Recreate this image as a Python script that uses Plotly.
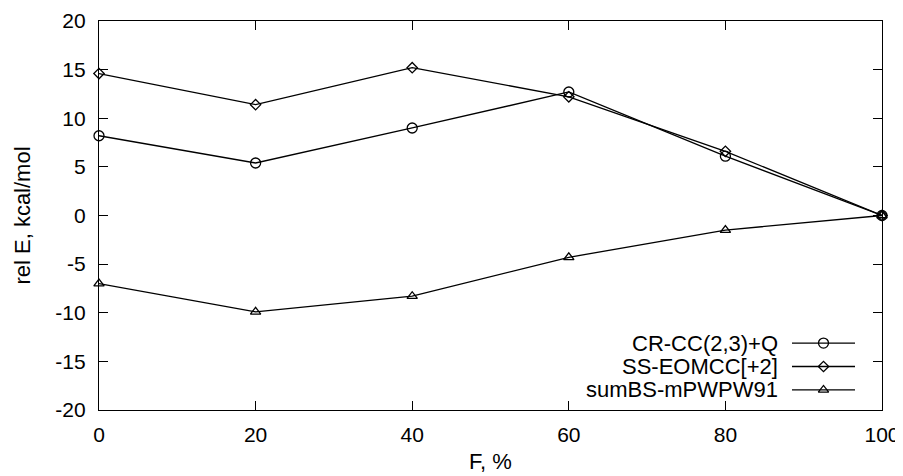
import plotly.graph_objects as go

x_vals = [0, 20, 40, 60, 80, 100]
cr_cc = [8.2, 5.4, 9.0, 12.7, 6.1, 0.0]
ss_eomcc = [14.6, 11.4, 15.2, 12.2, 6.6, 0.0]
sumbs = [-7.0, -9.9, -8.3, -4.3, -1.5, 0.0]

names = ["CR-CC(2,3)+Q", "SS-EOMCC[+2]", "sumBS-mPWPW91"]
symbols = ["circle-open", "diamond-open", "triangle-up-open"]
sizes = [10, 8, 9]
series = [cr_cc, ss_eomcc, sumbs]

x_ticks = [0, 20, 40, 60, 80, 100]
x_ticktext = ["0", "20", "40", "60", "80", "100"]
y_ticks = [-20, -15, -10, -5, 0, 5, 10, 15, 20]
y_ticktext = ["-20", "-15", "-10", "-5", "0", "5", "10", "15", "20"]

FONT = "Liberation Sans, Arial, sans-serif"

fig = go.Figure()
for name, ys, sym, sz in zip(names, series, symbols, sizes):
    fig.add_trace(go.Scatter(
        x=x_vals, y=ys, mode="lines+markers", name=name,
        line=dict(color="black", width=1.3),
        marker=dict(symbol=sym, size=sz, color="black", line=dict(color="black", width=1.3)),
        showlegend=False, cliponaxis=False,
    ))

# page offset (default body margin of the html page)
OFF = 8
W, H = 895, 468
L, T = 99 - OFF, 21 - OFF
R = W - (882 - OFF)
B = H - (410 - OFF)
pw, ph = W - L - R, H - T - B

# legend samples drawn on an overlay axis (gnuplot style: text on left, sample on right)
leg_y = [0.85, 0.5, 0.15]
for name, sym, sz, ly in zip(names, symbols, sizes, leg_y):
    fig.add_trace(go.Scatter(
        x=[0, 1], y=[ly, ly], mode="lines", xaxis="x2", yaxis="y2",
        line=dict(color="black", width=1.3), showlegend=False, hoverinfo="skip"))
    fig.add_trace(go.Scatter(
        x=[0.5], y=[ly], mode="markers", xaxis="x2", yaxis="y2",
        marker=dict(symbol=sym, size=sz, color="black", line=dict(color="black", width=1.3)),
        showlegend=False, hoverinfo="skip"))
    fig.add_annotation(
        x=0, y=ly, xref="x2", yref="y2", text=name, showarrow=False,
        xanchor="right", xshift=-12, font=dict(family=FONT, size=22, color="black"))

axis_common = dict(
    showline=True, linecolor="black", linewidth=1.3, mirror="allticks",
    ticks="inside", ticklen=9, tickwidth=1.3, tickcolor="black",
    showgrid=False, zeroline=False, automargin=False,
    tickfont=dict(family=FONT, size=21, color="black"),
)

leg_x0, leg_x1 = 792 - OFF, 855 - OFF
leg_y0, leg_y1 = 400 - OFF, 333 - OFF

fig.update_layout(
    width=W, height=H,
    margin=dict(l=L, r=R, t=T, b=B, autoexpand=False),
    plot_bgcolor="white", paper_bgcolor="white",
    xaxis=dict(range=[0, 100], tickvals=x_ticks, ticktext=x_ticktext, ticklabelstandoff=6,
               title=dict(text="F, %", standoff=8,
                          font=dict(family=FONT, size=22, color="black")), **axis_common),
    yaxis=dict(range=[-20, 20], tickvals=y_ticks, ticktext=y_ticktext, ticklabelstandoff=8,
               title=dict(text="rel E, kcal/mol", standoff=18,
                          font=dict(family=FONT, size=22, color="black")), **axis_common),
    xaxis2=dict(domain=[(leg_x0 - L) / pw, (leg_x1 - L) / pw], range=[0, 1], visible=False, anchor="y2"),
    yaxis2=dict(domain=[(H - B - leg_y0) / ph, (H - B - leg_y1) / ph], range=[0, 1], visible=False, anchor="x2"),
    showlegend=False,
)

fig.write_html("out.html")
